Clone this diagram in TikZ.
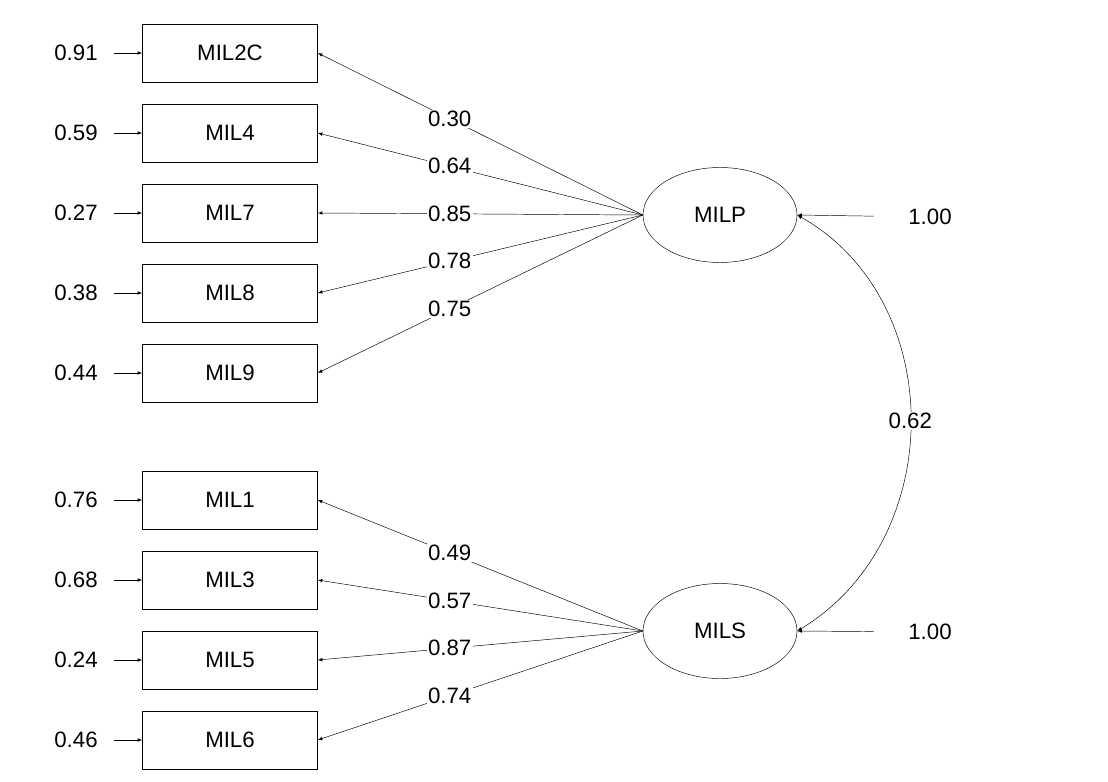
\documentclass[tikz,border=0pt]{standalone}
\usepackage{fontspec}
\setmainfont{Liberation Sans}
\usetikzlibrary{shapes.geometric, arrows, positioning}
\tikzset{
  item/.style={rectangle, draw, minimum width=175*0.03cm, minimum height=58*0.03cm, inner sep=0pt},
  factor/.style={ellipse, draw, minimum width=154*0.03cm, minimum height=95*0.03cm, inner sep=0pt},
  err/.style={inner sep=1pt},
  load/.style={fill=white, inner sep=1pt, pos=0.594},
  arrow/.style={thin, ->, >=latex},
  gap/.style={shorten <=0.45cm}
}
\begin{document}
\begin{tikzpicture}[x=0.03cm, y=-0.03cm, font=\fontsize{19}{22}\selectfont]
    \useasboundingbox (0,0) rectangle (1108,782);
    % factors
    \node (milp) [factor] at (720,215) {MILP};
    \node (mils) [factor] at (720,631) {MILS};
    % items with errors
    \foreach \name/\y/\e in {MIL2C/53/0.91, MIL4/133/0.59, MIL7/213/0.27, MIL8/293/0.38, MIL9/373/0.44,
        MIL1/500/0.76, MIL3/580/0.68, MIL5/660/0.24, MIL6/740/0.46} {
        \node (\name) [item] at (230,\y) {\name};
        \node (e\name) [err] at (76,\y) {\e};
        \draw [arrow, gap] (e\name) -- (\name);
    }
    % loadings
    \foreach \name/\v in {MIL2C/0.30, MIL4/0.64, MIL7/0.85, MIL8/0.78, MIL9/0.75}
        \draw [arrow] (milp.west) -- node [load] {\v} (\name.east);
    \foreach \name/\v in {MIL1/0.49, MIL3/0.57, MIL5/0.87, MIL6/0.74}
        \draw [arrow] (mils.west) -- node [load] {\v} (\name.east);
    % variances
    \node (vp) [err] at (930,217) {1.00};
    \node (vs) [err] at (930,632) {1.00};
    \draw [arrow, shorten <=1.0cm] (vp) -- (milp.east);
    \draw [arrow, shorten <=1.0cm] (vs) -- (mils.east);
    % covariance
    \draw [arrow, <->] (milp.east) .. controls (948,300) and (948,540) .. node [fill=white, inner sep=1pt, pos=0.5] {0.62} (mils.east);
\end{tikzpicture}
\end{document}
